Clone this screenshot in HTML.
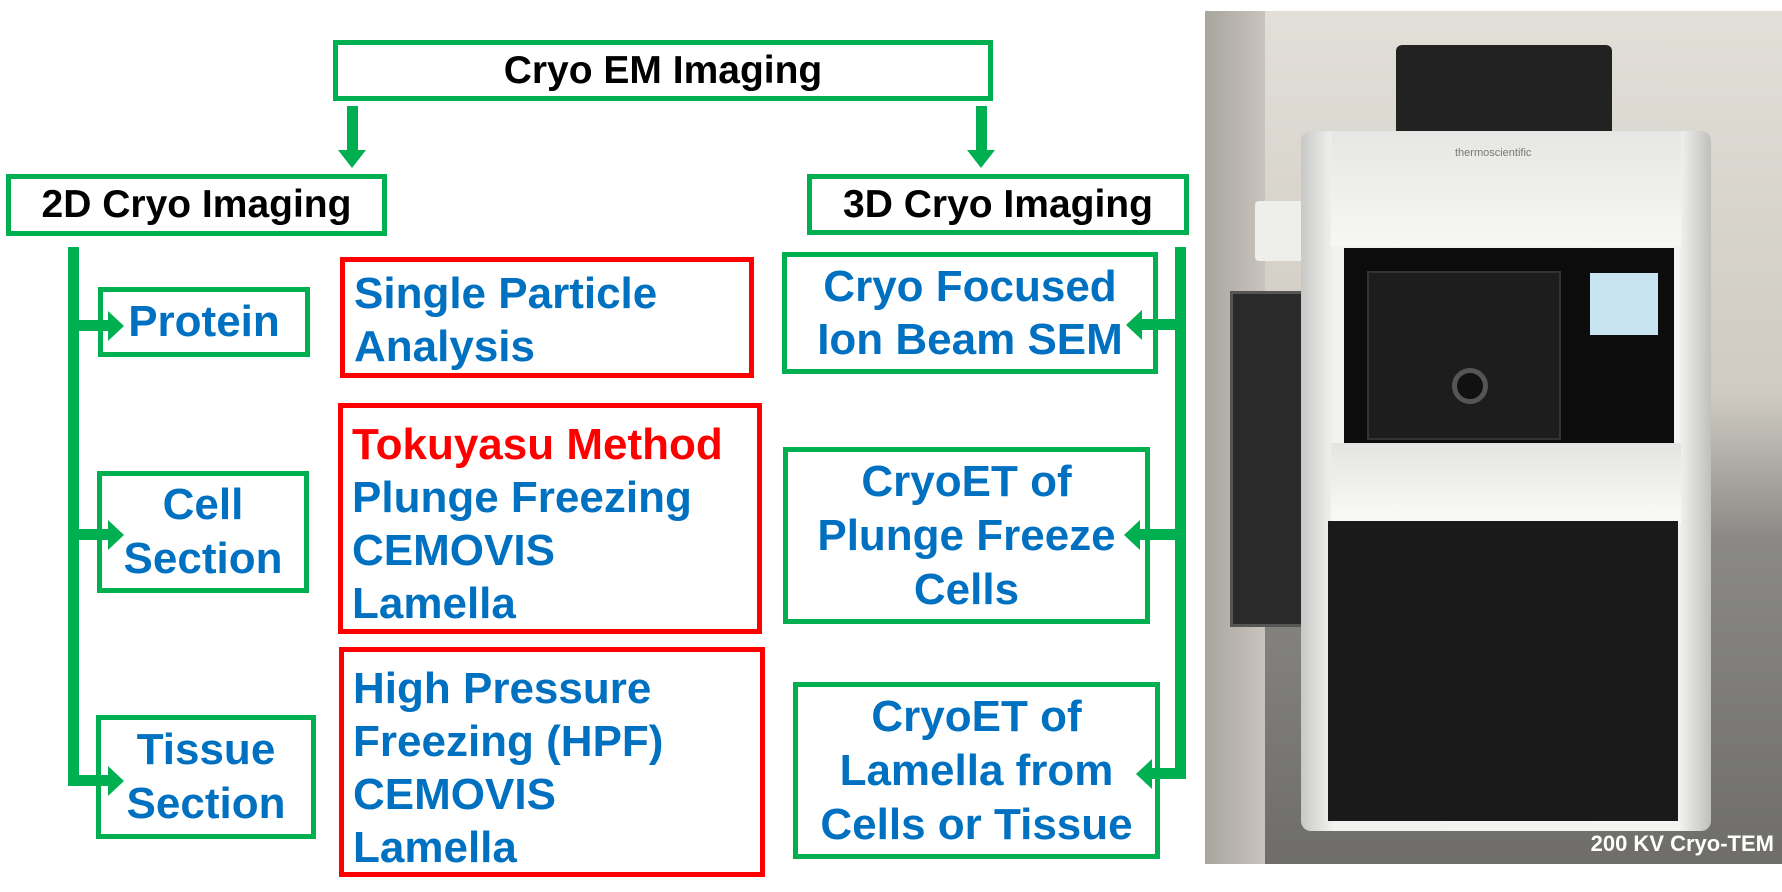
<!DOCTYPE html>
<html><head><meta charset="utf-8"><style>
body{margin:0;width:1782px;height:892px;background:#fff;position:relative;overflow:hidden;font-family:"Liberation Sans",sans-serif;font-weight:bold}
.b{position:absolute;box-sizing:border-box;border:5px solid #00b050;background:#fff}
.r{position:absolute;box-sizing:border-box;border:5px solid #ff0000;background:#fff;color:#0070c0;font-size:44px;line-height:53px;padding-left:9px}
.t{display:flex;align-items:center;justify-content:center;text-align:center;color:#0070c0;font-size:44px;line-height:54px}
.k{color:#000;font-size:39px}
.g{position:absolute;background:#00b050}
.ar{position:absolute;width:0;height:0}
.p{position:absolute}
</style></head><body>
<div class="b t k" style="left:333px;top:40px;width:660px;height:61px">Cryo EM Imaging</div>
<div class="g" style="left:347px;top:106px;width:11px;height:46px"></div>
<div class="ar" style="left:338px;top:150px;border-left:14px solid transparent;border-right:14px solid transparent;border-top:18px solid #00b050"></div>
<div class="g" style="left:976px;top:106px;width:11px;height:46px"></div>
<div class="ar" style="left:967px;top:150px;border-left:14px solid transparent;border-right:14px solid transparent;border-top:18px solid #00b050"></div>
<div class="b t k" style="left:6px;top:174px;width:381px;height:62px">2D Cryo Imaging</div>
<div class="b t k" style="left:807px;top:174px;width:382px;height:61px">3D Cryo Imaging</div>

<div class="g" style="left:68px;top:247px;width:11px;height:538px"></div>
<div class="b t" style="left:98px;top:287px;width:212px;height:70px">Protein</div>
<div class="b t" style="left:97px;top:471px;width:212px;height:122px">Cell<br>Section</div>
<div class="b t" style="left:96px;top:715px;width:220px;height:124px">Tissue<br>Section</div>
<div class="g" style="left:70px;top:320px;width:40px;height:11px"></div>
<div class="ar" style="left:108px;top:311px;border-top:15px solid transparent;border-bottom:15px solid transparent;border-left:16px solid #00b050"></div>
<div class="g" style="left:70px;top:529px;width:40px;height:11px"></div>
<div class="ar" style="left:108px;top:520px;border-top:15px solid transparent;border-bottom:15px solid transparent;border-left:16px solid #00b050"></div>
<div class="g" style="left:68px;top:775px;width:42px;height:11px"></div>
<div class="ar" style="left:108px;top:766px;border-top:15px solid transparent;border-bottom:15px solid transparent;border-left:16px solid #00b050"></div>

<div class="r" style="left:340px;top:257px;width:414px;height:121px;padding-top:5px">Single Particle<br>Analysis</div>
<div class="r" style="left:338px;top:403px;width:424px;height:231px;padding-top:10px"><span style="color:#ff0000">Tokuyasu Method</span><br>Plunge Freezing<br>CEMOVIS<br>Lamella</div>
<div class="r" style="left:339px;top:647px;width:426px;height:230px;padding-top:10px">High Pressure<br>Freezing (HPF)<br>CEMOVIS<br>Lamella</div>

<div class="g" style="left:1175px;top:247px;width:11px;height:532px"></div>
<div class="b t" style="left:782px;top:252px;width:376px;height:122px;line-height:53px">Cryo Focused<br>Ion Beam SEM</div>
<div class="b t" style="left:783px;top:447px;width:367px;height:177px">CryoET of<br>Plunge Freeze<br>Cells</div>
<div class="b t" style="left:793px;top:682px;width:367px;height:177px">CryoET of<br>Lamella from<br>Cells or Tissue</div>
<div class="g" style="left:1140px;top:319px;width:40px;height:11px"></div>
<div class="ar" style="left:1126px;top:310px;border-top:15px solid transparent;border-bottom:15px solid transparent;border-right:16px solid #00b050"></div>
<div class="g" style="left:1138px;top:529px;width:42px;height:11px"></div>
<div class="ar" style="left:1124px;top:520px;border-top:15px solid transparent;border-bottom:15px solid transparent;border-right:16px solid #00b050"></div>
<div class="g" style="left:1150px;top:768px;width:35px;height:11px"></div>
<div class="ar" style="left:1136px;top:759px;border-top:15px solid transparent;border-bottom:15px solid transparent;border-right:16px solid #00b050"></div>

<!-- photo -->
<div class="p" style="left:1205px;top:11px;width:577px;height:853px;overflow:hidden;background:linear-gradient(#e2dfd8 0%,#cfcbc3 45%,#8a8985 62%,#6e6d6a 100%)">
 <div class="p" style="left:0;top:0;width:60px;height:853px;background:linear-gradient(90deg,#a8a49e,#c8c4bd)"></div>
 <div class="p" style="left:25px;top:280px;width:70px;height:330px;background:#2a2a2a;border:3px solid #555"></div>
 <div class="p" style="left:50px;top:190px;width:75px;height:60px;background:#eeeeec;border-radius:4px"></div>
 <div class="p" style="left:191px;top:34px;width:216px;height:90px;background:#222;border-radius:6px 6px 0 0"></div>
 <div class="p" style="left:96px;top:120px;width:410px;height:700px;background:linear-gradient(90deg,#c8c8c6,#f2f2f0 8%,#f4f4f2 92%,#bfbfbd);border-radius:10px"></div>
 <div class="p" style="left:126px;top:120px;width:350px;height:115px;background:linear-gradient(#e6e6e4,#f7f7f5)"></div>
 <div class="p" style="left:139px;top:237px;width:330px;height:195px;background:#0c0c0c"></div>
 <div class="p" style="left:162px;top:260px;width:190px;height:165px;background:#1d1d1d;border:2px solid #333"></div>
 <div class="p" style="left:247px;top:357px;width:26px;height:26px;border-radius:50%;border:5px solid #555;background:#111"></div>
 <div class="p" style="left:385px;top:262px;width:68px;height:62px;background:#c8e4f0"></div>
 <div class="p" style="left:126px;top:432px;width:350px;height:80px;background:linear-gradient(#e4e4e2,#fafaf8)"></div>
 <div class="p" style="left:123px;top:510px;width:350px;height:300px;background:#1a1a1a"></div>
 <div class="p" style="left:250px;top:136px;font:11px 'Liberation Sans',sans-serif;color:#777">thermoscientific</div>
 <div class="p" style="right:8px;top:820px;font:bold 22px 'Liberation Sans',sans-serif;color:#fff">200 KV Cryo-TEM</div>
</div>
</body></html>
